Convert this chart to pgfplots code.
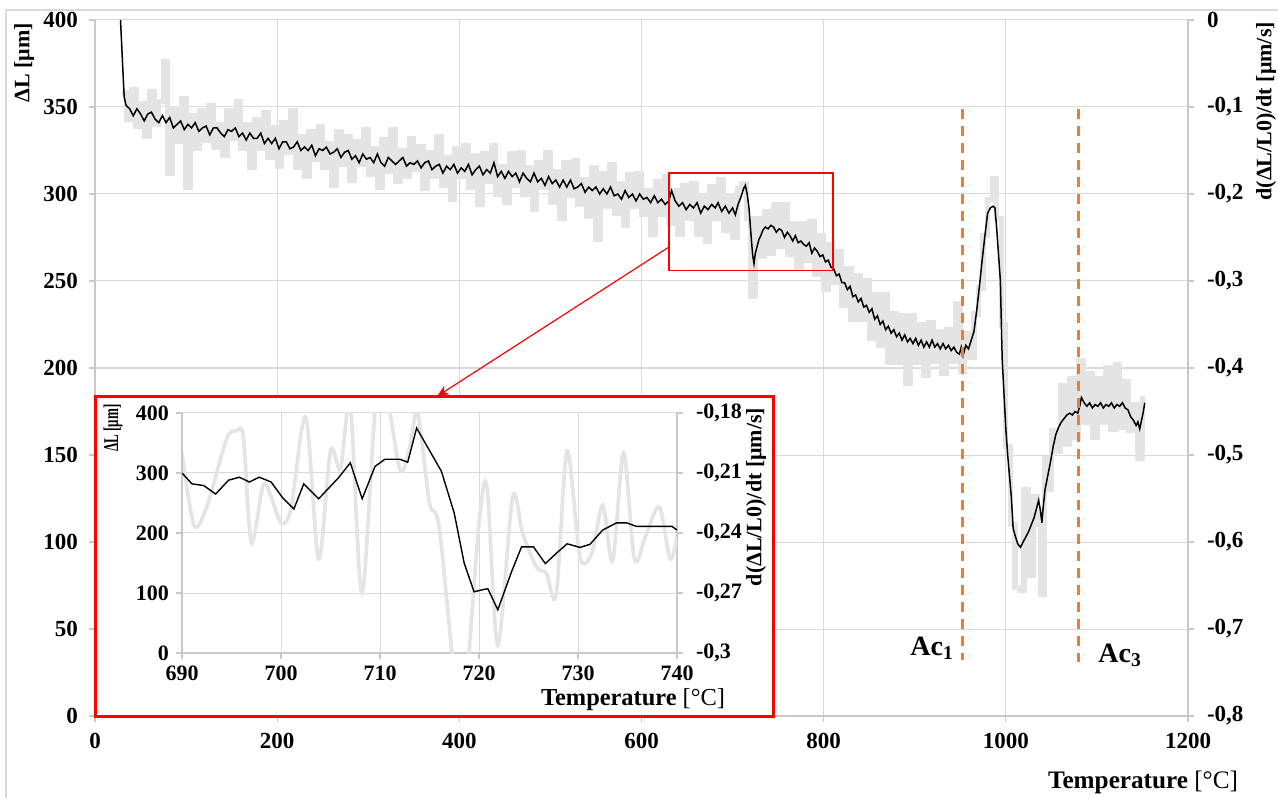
\documentclass[border=0pt]{standalone}
\usepackage{fontspec}
\setmainfont{Liberation Serif}
\usepackage{pgfplots}
\pgfplotsset{compat=1.18}
\usepackage{pgfplotstable}
\usetikzlibrary{arrows.meta}
\definecolor{lgray}{HTML}{E4E4E4}
\definecolor{gridc}{HTML}{D9D9D9}
\definecolor{axc}{HTML}{C8C8C8}
\definecolor{acorange}{HTML}{ED7D31}
\definecolor{frame}{HTML}{D9D9D9}

% main dilatation curve (left axis, um)
\pgfplotstableread{
T L
28 400
30 378
32 356
34 351
38 349
42 345
46 349
50 346
54 342
58 346
62 347
66 343
70 341
74 345
78 341
82 344
86 338
90 340
94 342
98 337
102 340
106 338
110 341
114 336
118 338
122 339
126 334
130 338
134 338
138 335
142 333
146 337
150 336
154 338
158 333
162 335
166 331
170 335
174 332
178 332
182 335
186 329
190 332
194 329
198 332
202 326
206 330
210 330
214 326
218 327
222 330
226 325
230 327
234 325
238 328
242 322
246 326
250 325
254 327
258 323
262 324
266 326
270 321
274 324
278 325
282 320
286 322
290 318
294 323
298 320
302 321
306 318
310 323
314 318
318 316
322 321
326 319
330 317
334 319
338 321
342 316
346 318
350 317
354 319
358 315
362 318
366 319
370 314
374 316
378 317
382 312
386 316
390 314
394 317
398 312
402 315
406 313
410 317
414 311
418 314
422 316
426 311
430 314
434 312
438 318
442 310
446 313
450 309
454 313
458 310
462 312
466 307
470 312
474 309
478 307
482 312
486 307
490 309
494 305
498 310
502 306
506 308
510 304
514 308
518 304
522 308
526 303
530 304
534 306
538 301
542 304
546 302
550 304
554 300
558 303
562 300
566 304
570 299
574 300
578 297
582 302
586 298
590 300
594 296
598 300
602 297
606 298
610 295
614 299
618 295
622 297
626 294
630 296
633 302
637 296
641 293
645 295
649 291
653 294
657 292
661 295
665 289
669 293
673 291
677 294
681 292
684 295
688 290
692 293
696 289
700 292
703 288
706 294
709 298
712 303
714 305
716 300
718 292
720 278
722 265
723.5 260
725 266
727 270
729 274
731 276
733 279
736 281
739 280
742 282
745 281
748 278
751 280
754 279
757 275
760 278
763 276
766 273
769 276
772 272
775 273
778 271
781 270
784 272
787 266
790 269
793 267
796 264
799 265
802 261
805 262
808 258
811 257
814 253
817 254
820 249
823 249
826 245
829 247
832 241
835 242
838 238
841 240
844 235
847 236
850 232
853 234
856 228
859 230
862 225
865 227
868 222
871 224
874 220
877 222
880 218
883 220
886 216
889 219
892 215
895 217
898 214
901 217
904 213
907 216
910 212
913 215
916 212
919 216
922 212
925 214
928 211
931 214
934 211
937 213
940 210
943 212
946 209
949 208
951 212
953 207
956 213
959 211
962 216
965 221
968 233
971 247
974 262
977 276
980 289
983 292
986 293
988 292
990 280
992 265
994 250
996 205
998 185
1000 165
1002 150
1004 138
1006 126
1008 108
1010 104
1013 99
1016 97
1019 100
1022 103
1025 106
1028 110
1031 114
1034 120
1036 124
1038 118
1039.5 111
1041 120
1043 130
1046 138
1049 146
1052 155
1055 162
1058 166
1061 169
1064 171
1067 173
1070 174
1073 173
1076 175
1079 174
1081 178
1083 183
1086 180
1089 178
1092 180
1095 177
1098 179
1101 178
1104 180
1107 177
1110 179
1113 178
1116 180
1119 177
1122 179
1125 178
1128 180
1131 177
1134 176
1137 172
1140 170
1143 167
1145 169
1147 165
1149 170
1151 175
1152.5 180
}\mainblack

% main derivative curve (right axis, um/s)
\pgfplotstableread{
T D
30 -0.084
35 -0.114
40 -0.080
45 -0.122
50 -0.096
55 -0.134
60 -0.082
65 -0.120
70 -0.094
75 -0.048
80 -0.176
85 -0.102
90 -0.140
95 -0.090
100 -0.192
105 -0.110
110 -0.148
115 -0.104
120 -0.138
125 -0.098
130 -0.146
135 -0.120
140 -0.156
145 -0.104
150 -0.136
155 -0.094
160 -0.148
165 -0.120
170 -0.170
175 -0.114
180 -0.148
185 -0.106
190 -0.158
195 -0.124
200 -0.168
205 -0.118
210 -0.152
215 -0.104
220 -0.170
225 -0.134
230 -0.180
235 -0.128
240 -0.160
245 -0.122
250 -0.170
255 -0.142
260 -0.190
265 -0.128
270 -0.166
275 -0.134
280 -0.184
285 -0.140
290 -0.166
295 -0.126
300 -0.178
305 -0.148
310 -0.192
315 -0.138
320 -0.174
325 -0.126
330 -0.186
335 -0.150
340 -0.180
345 -0.136
350 -0.172
355 -0.146
360 -0.194
365 -0.152
370 -0.180
375 -0.134
380 -0.190
385 -0.158
390 -0.206
395 -0.148
400 -0.180
405 -0.144
410 -0.192
415 -0.156
420 -0.212
425 -0.154
430 -0.186
435 -0.144
440 -0.200
445 -0.168
450 -0.210
455 -0.154
460 -0.190
465 -0.152
470 -0.200
475 -0.170
480 -0.218
485 -0.164
490 -0.192
495 -0.152
500 -0.210
505 -0.174
510 -0.228
515 -0.164
520 -0.202
525 -0.162
530 -0.212
535 -0.184
540 -0.226
545 -0.170
550 -0.252
555 -0.176
560 -0.214
565 -0.166
570 -0.222
575 -0.188
580 -0.236
585 -0.178
590 -0.214
595 -0.176
600 -0.224
605 -0.196
610 -0.246
615 -0.186
620 -0.224
625 -0.180
630 -0.234
635 -0.196
640 -0.246
645 -0.190
650 -0.228
655 -0.188
660 -0.246
665 -0.202
670 -0.254
675 -0.192
680 -0.228
685 -0.184
690 -0.242
695 -0.202
700 -0.250
705 -0.194
710 -0.188
715 -0.228
720 -0.318
725 -0.228
730 -0.272
735 -0.220
740 -0.268
745 -0.212
750 -0.260
755 -0.212
760 -0.270
765 -0.234
770 -0.286
775 -0.234
780 -0.276
785 -0.232
790 -0.292
795 -0.248
800 -0.310
805 -0.258
810 -0.302
815 -0.266
820 -0.328
825 -0.286
830 -0.344
835 -0.294
840 -0.344
845 -0.300
850 -0.366
855 -0.316
860 -0.374
865 -0.316
870 -0.394
875 -0.338
880 -0.394
885 -0.340
890 -0.418
895 -0.340
900 -0.394
905 -0.350
910 -0.408
915 -0.348
920 -0.392
925 -0.358
930 -0.406
935 -0.356
940 -0.392
945 -0.326
950 -0.404
955 -0.360
960 -0.388
965 -0.338
970 -0.308
975 -0.248
980 -0.206
985 -0.182
990 -0.228
995 -0.350
1000 -0.490
1005 -0.580
1010 -0.652
1015 -0.656
1020 -0.540
1025 -0.638
1030 -0.548
1035 -0.580
1038 -0.660
1042 -0.504
1046 -0.540
1050 -0.472
1055 -0.496
1060 -0.420
1065 -0.488
1070 -0.412
1075 -0.480
1080 -0.392
1085 -0.462
1090 -0.406
1095 -0.480
1100 -0.412
1105 -0.462
1110 -0.400
1115 -0.470
1120 -0.396
1125 -0.468
1130 -0.416
1135 -0.472
1140 -0.442
1145 -0.504
1150 -0.432
}\maingray

% inset curves
\pgfplotstableread{
T L
690 300
691 282
692.2 279
693.4 265
694.7 288
695.8 293
696.8 285
697.8 293
699 285
700.2 258
701.3 240
702.3 282
703.8 257
705.8 292
707 317
708.2 257
709.5 311
710.5 323
712 323
712.8 318
713.7 375
716.2 303
717.5 233
718.5 150
719.5 102
720.5 106
720.9 107
721.9 72
723.3 136
724.3 177
725.5 177
726.7 149
727.8 166
728.9 182
730.2 176
731.2 181
732.5 205
733.9 217
734.9 217
735.9 211
739.5 211
740 205
}\insetblack

\pgfplotstableread{
T D
690 -0.200
691.2 -0.236
692.5 -0.227
694.5 -0.193
695.5 -0.189
696.2 -0.192
697 -0.245
698.2 -0.216
699 -0.222
700 -0.235
701 -0.228
702.5 -0.182
703.8 -0.253
705 -0.199
706 -0.208
707 -0.176
708.2 -0.270
709.9 -0.160
712 -0.208
713 -0.197
713.8 -0.180
715 -0.225
716 -0.238
718.2 -0.330
720 -0.235
720.8 -0.217
721.9 -0.296
723.4 -0.222
724.4 -0.240
725.8 -0.257
726.8 -0.260
727.8 -0.271
728.9 -0.199
730.2 -0.252
731.4 -0.250
732.5 -0.226
733.5 -0.254
734.6 -0.200
735.7 -0.253
736.8 -0.242
738.2 -0.227
739.3 -0.253
740 -0.242
}\insetgray

\pgfplotsset{
  commonax/.style={
    scale only axis,
    tick align=outside,
    major tick length=3pt,
    axis line style={draw=axc, line width=0.6pt},
    tick style={draw=axc, line width=0.6pt},
    tick label style={font=\fontsize{11.5}{13}\selectfont\bfseries},
    /pgf/number format/assume math mode=true,
    /pgf/number format/1000 sep={},
    scaled ticks=false,
  },
  commaticks/.style={
    yticklabel style={/pgf/number format/fixed, /pgf/number format/precision=#1, /pgf/number format/use comma, /pgf/number format/1000 sep={}},
  },
}

\begin{document}
\begin{tikzpicture}
\useasboundingbox (0,0) rectangle (639pt,399pt);
% chart frame
\draw[frame, line width=0.6pt] (3pt,0pt) -- (3pt,394pt) -- (639pt,394pt);

% ---------- main chart: derivative (right axis) ----------
\begin{axis}[commonax, commaticks=1,
  at={(47.5pt,41pt)}, anchor=south west,
  width=546.5pt, height=348pt,
  xmin=0, xmax=1200, ymin=-0.8, ymax=0,
  axis y line*=right, axis x line*=bottom,
  xtick={0,200,400,600,800,1000,1200},
  ytick={-0.8,-0.7,-0.6,-0.5,-0.4,-0.3,-0.2,-0.1,0},
  grid=major, grid style={gridc, line width=0.5pt},
  xticklabel style={yshift=-2pt},
  yticklabel style={xshift=3pt},
]
\addplot[lgray, line width=2.6pt, const plot, line join=miter] table[x=T, y=D] {\maingray};
\end{axis}

% ---------- main chart: dilatation (left axis) ----------
\begin{axis}[commonax,
  at={(47.5pt,41pt)}, anchor=south west,
  width=546.5pt, height=348pt,
  xmin=0, xmax=1200, ymin=0, ymax=400,
  axis y line*=left, axis x line=none,
  ytick={0,50,...,400},
  yticklabel style={xshift=-2pt},
]
\addplot[black, line width=0.75pt] table[x=T, y=L] {\mainblack};
\addplot[acorange, line width=1.5pt, dash pattern=on 5pt off 3.5pt] coordinates {(952,349) (952,32)};
\addplot[acorange, line width=1.5pt, dash pattern=on 5pt off 3.5pt] coordinates {(1080,349) (1080,31)};
\draw[red, line width=0.8pt] (axis cs:630,256) rectangle (axis cs:810,312);
\end{axis}

% ---------- inset ----------
\fill[white] (47.5pt,41pt) rectangle (386.5pt,200.5pt);
\draw[red, line width=1.5pt] (47.5pt,41pt) rectangle (386.5pt,200.5pt);

\begin{axis}[commonax, commaticks=2,
  at={(91pt,72.5pt)}, anchor=south west,
  width=247.5pt, height=120pt,
  xmin=690, xmax=740, ymin=-0.3, ymax=-0.18,
  axis y line*=right, axis x line*=bottom,
  xtick={690,700,710,720,730,740},
  ytick={-0.3,-0.27,-0.24,-0.21,-0.18},
  grid=major, grid style={gridc, line width=0.5pt},
  tick label style={font=\fontsize{11}{13}\selectfont\bfseries},
  yticklabel style={xshift=3pt},
]
\addplot[lgray, line width=1.8pt, smooth] table[x=T, y=D] {\insetgray};
\end{axis}

\begin{axis}[commonax,
  at={(91pt,72.5pt)}, anchor=south west,
  width=247.5pt, height=120pt,
  xmin=690, xmax=740, ymin=0, ymax=400,
  axis y line*=left, axis x line=none,
  ytick={0,100,200,300,400},
  tick label style={font=\fontsize{11}{13}\selectfont\bfseries},
]
\addplot[black, line width=0.7pt] table[x=T, y=L] {\insetblack};
\end{axis}

% arrow from zoom box to inset
\draw[red, line width=0.6pt, -{Stealth[length=6pt, width=5pt]}] (334.5pt,275.5pt) -- (218.5pt,200.8pt);

% ---------- labels ----------
\node[rotate=90, anchor=east, font=\fontsize{11}{13}\selectfont\bfseries] at (12pt,391pt) {ΔL [μm]};
\node[rotate=90, anchor=east, font=\fontsize{11}{13}\selectfont\bfseries] at (633pt,391.5pt) {d(ΔL/L0)/dt [μm/s]};
\node[anchor=center, font=\fontsize{12.6}{14}\selectfont] at (571.5pt,8pt) {\textbf{Temperature} [°C]};

\node[rotate=90, anchor=center, font=\fontsize{10.5}{12}\selectfont\bfseries] at (56.5pt,185pt) {\scalebox{0.62}[1]{ΔL [μm]}};
\node[rotate=90, anchor=center, font=\fontsize{11}{13}\selectfont\bfseries] at (378pt,150.5pt) {d(ΔL/L0)/dt [μm/s]};
\node[anchor=center, font=\fontsize{12.2}{14}\selectfont] at (316.5pt,49pt) {\textbf{Temperature} [°C]};

\node[anchor=base west, font=\fontsize{14}{16}\selectfont\bfseries, inner sep=0pt] at (455pt,71.5pt) {Ac\textsubscript{1}};
\node[anchor=base west, font=\fontsize{14}{16}\selectfont\bfseries, inner sep=0pt] at (549pt,68pt) {Ac\textsubscript{3}};
\end{tikzpicture}
\end{document}
